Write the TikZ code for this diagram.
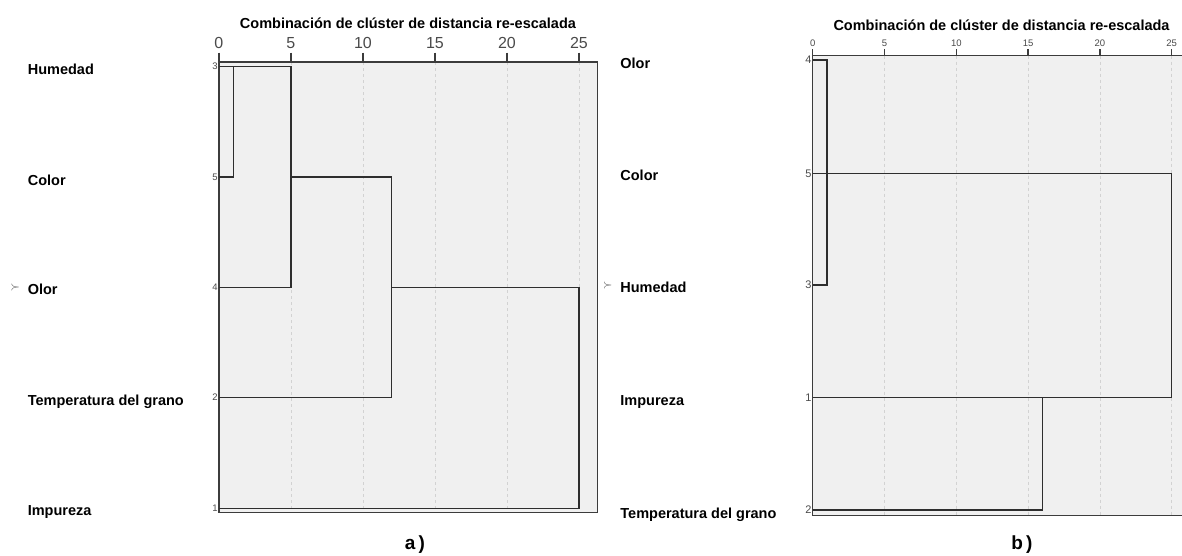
\documentclass[tikz,border=0pt]{standalone}
\usepackage{fontspec}
\setmainfont{Liberation Sans}
\usetikzlibrary{positioning}
\definecolor{boxgray}{HTML}{F0F0F0}
\definecolor{framegray}{HTML}{3C3C3C}
\definecolor{gridgray}{HTML}{D2D2D2}
\definecolor{linkgray}{HTML}{2E2E2E}
\definecolor{tickgray}{HTML}{4A4A4A}

\begin{document}
\begin{tikzpicture}[x=1pt,y=-1pt,
    plotbox/.style={fill=boxgray},
    frame/.style={draw=framegray,line width=1.3pt},
    grid/.style={draw=gridgray,dash pattern=on 3pt off 3pt,line width=0.8pt},
    tickline/.style={draw=framegray,line width=1.3pt},
    link/.style={draw=linkgray,line width=1.4pt},
    title/.style={font=\fontsize{14.5}{16}\selectfont\bfseries},
    varlab/.style={anchor=base west,inner sep=0pt,font=\fontsize{14.5}{16}\selectfont\bfseries},
    ticklabA/.style={text=tickgray,inner sep=0pt,font=\fontsize{16}{18}\selectfont},
    ticklabB/.style={text=tickgray,inner sep=0pt,font=\fontsize{9.5}{11}\selectfont},
    leafA/.style={inner sep=1pt,text=tickgray,font=\fontsize{9.5}{10}\selectfont},
    leafB/.style={inner sep=1pt,text=tickgray,font=\fontsize{11}{12}\selectfont},
    pointer/.style={inner sep=0pt,text=tickgray,font=\fontsize{13}{14}\selectfont},
    caption/.style={font=\fontsize{19}{21}\selectfont\bfseries}]
  \path[use as bounding box,clip] (0,0) rectangle (1182,555);

  % a)
  \begin{scope}[xshift=218.9pt,x=14.4pt]
    \fill[plotbox] (0,62) rectangle (26.3,512.3);
    \foreach \t in {5,10,...,25}
      \draw[grid] (\t,62) -- (\t,512.3);
    \draw[frame] (0,62) rectangle (26.3,512.3);
    \foreach \t in {0,5,...,25}{
      \draw[tickline] (\t,52.7) -- (\t,62);
      \node[ticklabA] (ta\t) at (\t,43.3) {\t};
    }
    \node[title] (titleA) at (13.13,23.3) {Combinación de clúster de distancia re-escalada};
    \coordinate (a3) at (0,66.7);
    \coordinate (a5) at (0,177);
    \coordinate (a4) at (0,287.3);
    \coordinate (a2) at (0,397.3);
    \coordinate (a1) at (0,508.3);
    \coordinate (aj1) at (1,66.7);
    \coordinate (aj5) at (5,66.7);
    \coordinate (aj12) at (12,177);
    \coordinate (aj25) at (25,287.3);
    \node[leafA, left=0pt of a3] (na3) {3};
    \node[leafA, left=0pt of a5] (na5) {5};
    \node[leafA, left=0pt of a4] (na4) {4};
    \node[leafA, left=0pt of a2] (na2) {2};
    \node[leafA, left=0pt of a1] (na1) {1};
    \draw[link] (a5) -| (aj1);
    \draw[link] (a3) -- (aj5) |- (a4);
    \draw[link] (aj5 |- a5) -- (aj12) |- (a2);
    \draw[link] (aj12 |- a4) -- (aj25) |- (a1);
  \end{scope}
  \node[varlab] (aHum) at (27.6,74) {Humedad};
  \node[varlab] (aCol) at (27.6,185) {Color};
  \node[varlab] (aOlo) at (27.6,294.7) {Olor};
  \node[varlab] (aTem) at (27.6,405) {Temperatura del grano};
  \node[varlab] (aImp) at (27.6,515) {Impureza};
  \node[pointer] (aPtr) at (15.3,287) {$\succ$};
  \node[caption] (capA) at (415,545) {a\,)};

  % b)
  \begin{scope}[xshift=812.7pt,x=14.36pt]
    \fill[plotbox] (0,55.5) rectangle (26.3,515.3);
    \foreach \t in {5,10,...,25}
      \draw[grid] (\t,55.5) -- (\t,515.3);
    \draw[frame] (26.3,55.5) -- (0,55.5) -- (0,515.3) -- (26.3,515.3);
    \foreach \t in {0,5,...,25}{
      \draw[tickline] (\t,49) -- (\t,55.5);
      \node[ticklabB] (tb\t) at (\t,43) {\t};
    }
    \node[title] (titleB) at (13.15,25) {Combinación de clúster de distancia re-escalada};
    \coordinate (b4) at (0,60);
    \coordinate (b5) at (0,173.3);
    \coordinate (b3) at (0,285);
    \coordinate (b1) at (0,397.7);
    \coordinate (b2) at (0,510);
    \coordinate (bj1) at (1,285);
    \coordinate (bj25) at (25,173.3);
    \coordinate (bj16) at (16,397.7);
    \node[leafB, left=0pt of b4] (nb4) {4};
    \node[leafB, left=0pt of b5] (nb5) {5};
    \node[leafB, left=0pt of b3] (nb3) {3};
    \node[leafB, left=0pt of b1] (nb1) {1};
    \node[leafB, left=0pt of b2] (nb2) {2};
    \draw[link] (b4) -| (bj1) -- (b3);
    \draw[link] (b5) -- (bj25) |- (b1);
    \draw[link] (bj16) |- (b2);
  \end{scope}
  \node[varlab] (bOlo) at (620.2,68) {Olor};
  \node[varlab] (bCol) at (620.2,180.7) {Color};
  \node[varlab] (bHum) at (620.2,292.7) {Humedad};
  \node[varlab] (bImp) at (620.2,405.7) {Impureza};
  \node[varlab] (bTem) at (620.2,518.3) {Temperatura del grano};
  \node[pointer] (bPtr) at (607.7,285) {$\succ$};
  \node[caption] (capB) at (1022,545) {b\,)};
\end{tikzpicture}
\end{document}
